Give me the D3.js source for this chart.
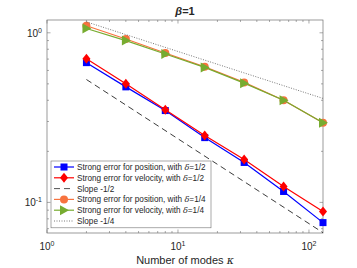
<!DOCTYPE html>
<html>
<head>
<meta charset="utf-8">
<script src="https://cdn.jsdelivr.net/npm/d3@7"></script>
<style>
  body { margin: 0; background: #fff; }
  text { font-family: "Liberation Sans", Arial, sans-serif; fill: #262626; }
</style>
</head>
<body>
<div id="chart"></div>
<script>
// data
var kappa = [2, 4, 8, 16, 32, 64, 128];
var posHalf = [0.667, 0.48, 0.348, 0.241, 0.172, 0.116, 0.076];
var velHalf = [0.703, 0.50, 0.352, 0.248, 0.179, 0.124, 0.0885];
var posQuarter = [1.10, 0.92, 0.76, 0.63, 0.51, 0.40, 0.295];
var velQuarter = [1.06, 0.90, 0.75, 0.625, 0.505, 0.40, 0.295];
var slopeHalf = [0.75, -0.5];     // C * k^p
var slopeQuarter = [1.38, -0.25];
var xTicks = [1, 10, 100];
var yTicks = [0.1, 1];

var W = 357, H = 268;
var margin = {top: 20, right: 34, bottom: 35, left: 47};
var width = W - margin.left - margin.right,
    height = H - margin.top - margin.bottom;

var x = d3.scaleLog().domain([1, 128]).range([0, width]);
var y = d3.scaleLog().domain([0.066, 1.19]).range([height, 0]);

var svg = d3.select("#chart").append("svg")
    .attr("width", W)
    .attr("height", H)
    .append("g")
    .attr("transform", "translate(" + margin.left + "," + margin.top + ")");

// minor tick values
var xMinor = [], yMinor = [];
[1, 10, 100].forEach(function (b) {
    for (var i = 2; i <= 9; i++) if (b * i <= 128) xMinor.push(b * i);
});
[0.01, 0.1].forEach(function (b) {
    for (var i = 2; i <= 9; i++) if (b * i >= 0.066 && b * i <= 1.19) yMinor.push(b * i);
});

var axisColor = "#707070";

function ticksAt(sel, vals, len, horizontal) {
    vals.forEach(function (v) {
        if (horizontal) {
            sel.append("line").attr("x1", x(v)).attr("x2", x(v)).attr("y1", height).attr("y2", height - len);
            sel.append("line").attr("x1", x(v)).attr("x2", x(v)).attr("y1", 0).attr("y2", len);
        } else {
            sel.append("line").attr("y1", y(v)).attr("y2", y(v)).attr("x1", 0).attr("x2", len);
            sel.append("line").attr("y1", y(v)).attr("y2", y(v)).attr("x1", width).attr("x2", width - len);
        }
    });
}
var tg = svg.append("g").attr("stroke", axisColor).attr("stroke-width", 0.6);
ticksAt(tg, xTicks.filter(function (v) { return v <= 128; }), 3.5, true);
ticksAt(tg, xMinor, 2, true);
ticksAt(tg, yTicks, 3.5, false);
ticksAt(tg, yMinor, 2, false);

// box
svg.append("rect")
    .attr("width", width).attr("height", height)
    .attr("fill", "none").attr("stroke", axisColor).attr("stroke-width", 0.7);

// tick labels
xTicks.forEach(function (v) {
    var t = svg.append("text")
        .attr("x", x(v)).attr("y", height + 17)
        .attr("text-anchor", "middle")
        .style("font-size", "10px");
    t.append("tspan").text("10");
    t.append("tspan").attr("dy", -4).style("font-size", "7px").text(Math.round(Math.log10(v)));
});
yTicks.forEach(function (v) {
    var t = svg.append("text")
        .attr("x", -5).attr("y", y(v) + 4)
        .attr("text-anchor", "end")
        .style("font-size", "10px");
    t.append("tspan").text("10");
    t.append("tspan").attr("dy", -4).style("font-size", "7px").text(Math.round(Math.log10(v)));
});

// axis label and title
var xl = svg.append("text")
    .attr("x", width / 2).attr("y", height + 31)
    .attr("text-anchor", "middle")
    .style("font-size", "11px");
xl.append("tspan").text("Number of modes  ");
xl.append("tspan").style("font-style", "italic").style("font-family", "DejaVu Serif").text("κ");

var title = svg.append("text")
    .attr("x", width / 2).attr("y", -5)
    .attr("text-anchor", "middle")
    .style("font-size", "11px").style("font-weight", "bold");
title.append("tspan").style("font-style", "italic").text("β");
title.append("tspan").text("=1");

// lines
var line = d3.line()
    .x(function (d) { return x(d[0]); })
    .y(function (d) { return y(d[1]); });

function slopePts(c) {
    return [[kappa[0], c[0] * Math.pow(kappa[0], c[1])],
            [kappa[kappa.length - 1], c[0] * Math.pow(kappa[kappa.length - 1], c[1])]];
}

var series = [
    {vals: posHalf, color: "#0000ff", marker: "square", label: "Strong error for position, with  ", d: "1/2"},
    {vals: velHalf, color: "#ff0000", marker: "diamond", label: "Strong error for velocity, with  ", d: "1/2"},
    {slope: slopeHalf, color: "#262626", dash: "6,4", label: "Slope -1/2"},
    {vals: posQuarter, color: "#f7733f", marker: "circle", label: "Strong error for position, with  ", d: "1/4"},
    {vals: velQuarter, color: "#77ac30", marker: "triangle", label: "Strong error for velocity, with  ", d: "1/4"},
    {slope: slopeQuarter, color: "#555", dash: "1,1.5", label: "Slope -1/4"}
];

var plot = svg.append("g");

function drawMarker(g, type, cx, cy, color) {
    if (type === "square") {
        g.append("rect").attr("x", cx - 3.5).attr("y", cy - 3.5).attr("width", 7).attr("height", 7).attr("fill", color);
    } else if (type === "diamond") {
        g.append("path").attr("d", "M" + cx + "," + (cy - 5) + "L" + (cx + 4) + "," + cy + "L" + cx + "," + (cy + 5) + "L" + (cx - 4) + "," + cy + "Z").attr("fill", color);
    } else if (type === "circle") {
        g.append("circle").attr("cx", cx).attr("cy", cy).attr("r", 4).attr("fill", color);
    } else if (type === "triangle") {
        g.append("path").attr("d", "M" + (cx + 5) + "," + cy + "L" + (cx - 4) + "," + (cy - 5) + "L" + (cx - 4) + "," + (cy + 5) + "Z").attr("fill", color);
    }
}

series.forEach(function (s) {
    if (s.slope) {
        plot.append("path")
            .datum(slopePts(s.slope))
            .attr("fill", "none").attr("stroke", s.color)
            .attr("stroke-width", s.dash === "6,4" ? 0.9 : 0.8)
            .attr("stroke-dasharray", s.dash)
            .attr("d", line);
    } else {
        var pts = kappa.map(function (k, i) { return [k, s.vals[i]]; });
        plot.append("path")
            .datum(pts)
            .attr("fill", "none").attr("stroke", s.color).attr("stroke-width", 1.2)
            .attr("d", line);
        pts.forEach(function (p) { drawMarker(plot, s.marker, x(p[0]), y(p[1]), s.color); });
    }
});

// legend
var lg = svg.append("g").attr("transform", "translate(4,141)");
var rowH = 10.8;
lg.append("rect")
    .attr("width", 160).attr("height", 6 * rowH + 2)
    .attr("fill", "#fff").attr("stroke", axisColor).attr("stroke-width", 0.6);
series.forEach(function (s, i) {
    var cy = 6 + i * rowH;
    lg.append("line")
        .attr("x1", 3).attr("x2", 23).attr("y1", cy).attr("y2", cy)
        .attr("stroke", s.color)
        .attr("stroke-width", s.slope ? 0.8 : 1.2)
        .attr("stroke-dasharray", s.dash || null);
    if (s.marker) drawMarker(lg, s.marker, 13, cy, s.color);
    var t = lg.append("text")
        .attr("x", 26).attr("y", cy + 3)
        .style("font-size", "8.2px");
    t.append("tspan").text(s.label);
    if (s.d) {
        t.append("tspan").style("font-style", "italic").style("font-family", "DejaVu Serif").text("δ");
        t.append("tspan").text("=" + s.d);
    }
});
</script>
</body>
</html>
